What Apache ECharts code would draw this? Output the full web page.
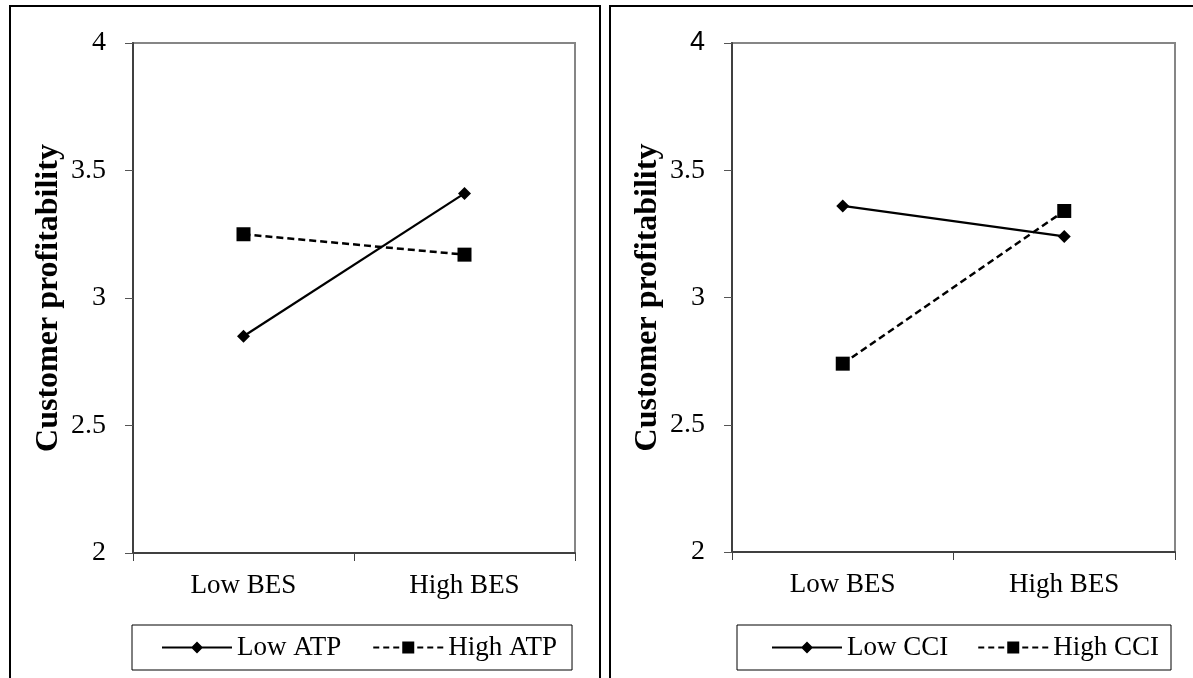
<!DOCTYPE html>
<html>
<head>
<meta charset="utf-8">
<script src="https://cdn.jsdelivr.net/npm/echarts@6/dist/echarts.min.js"></script>
<style>
html,body{margin:0;padding:0;background:#fff;}
#chart{width:1193px;height:678px;}
</style>
</head>
<body>
<div id="chart"></div>
<script>
const categories = ['Low BES', 'High BES'];
const lowATP = [2.85, 3.41];
const highATP = [3.25, 3.17];
const lowCCI = [3.36, 3.24];
const highCCI = [2.74, 3.34];
const yMin = 2, yMax = 4, yStep = 0.5;
const yTitle = 'Customer profitability';
const legendLeft = ['Low ATP', 'High ATP'];
const legendRight = ['Low CCI', 'High CCI'];

const serif = '"Liberation Serif", "Times New Roman", serif';
const chart = echarts.init(document.getElementById('chart'));

// legend icons (70 x 13 box): line with diamond / dashed line with square
const iconSolid = 'path://M0 5.5L70 5.5L70 7.5L0 7.5Z M35 0.5L41 6.5L35 12.5L29 6.5Z';
const iconDashed = 'path://M0 0L0.01 0Z M0 13L0.01 13Z ' +
  'M0 5.5L6 5.5L6 7.5L0 7.5Z M10 5.5L16 5.5L16 7.5L10 7.5Z M20 5.5L26 5.5L26 7.5L20 7.5Z ' +
  'M29 0.5L41 0.5L41 12.5L29 12.5Z ' +
  'M44 5.5L50 5.5L50 7.5L44 7.5Z M54 5.5L60 5.5L60 7.5L54 7.5Z M64 5.5L70 5.5L70 7.5L64 7.5Z';

function xAxis(gi) {
  return {
    type: 'category', gridIndex: gi, data: categories, boundaryGap: true,
    axisLine: {lineStyle: {color: '#404040', width: 2}},
    axisTick: {show: true, length: 8, lineStyle: {color: '#404040', width: 1}},
    axisLabel: {fontFamily: serif, fontSize: 27, color: '#000', margin: 19}
  };
}
function yAxis(gi, sansTop) {
  return {
    type: 'value', gridIndex: gi, min: yMin, max: yMax, interval: yStep,
    name: yTitle, nameLocation: 'middle', nameRotate: 90, nameGap: 68,
    nameTextStyle: {fontFamily: serif, fontSize: 32, fontWeight: 'bold', color: '#000'},
    axisLine: {show: true, lineStyle: {color: '#404040', width: 2}},
    axisTick: {show: true, length: 8, lineStyle: {color: '#555', width: 1}},
    splitLine: {show: false},
    axisLabel: {
      fontFamily: serif, fontSize: 28, color: '#000', margin: 27,
      formatter: function (v) {
        if (sansTop && v === yMax) return '{s|' + v + '}';
        return String(v);
      },
      rich: {s: {fontFamily: '"Liberation Sans", Arial, sans-serif', fontSize: 27, color: '#000'}}
    }
  };
}
function lineSeries(name, data, gi, dashed, symbol, size) {
  return {
    name: name, type: 'line', xAxisIndex: gi, yAxisIndex: gi, data: data,
    symbol: symbol, symbolSize: size,
    itemStyle: {color: '#000'},
    lineStyle: {color: '#000', width: dashed ? 2.5 : 2.2, type: dashed ? [7, 4] : 'solid'},
    animation: false
  };
}
function legend(left, names, padL, padR, gap) {
  return {
    left: left, top: 625, orient: 'horizontal',
    data: [{name: names[0], icon: iconSolid}, {name: names[1], icon: iconDashed}],
    borderColor: '#000', borderWidth: 1, padding: [9, padR, 9, padL],
    itemWidth: 70, itemHeight: 13, itemGap: gap,
    itemStyle: {color: '#000', borderWidth: 0},
    textStyle: {fontFamily: serif, fontSize: 27, color: '#000'},
    selectedMode: false
  };
}

chart.setOption({
  backgroundColor: '#fff',
  animation: false,
  graphic: [
    {type: 'rect', shape: {x: 10, y: 6, width: 590, height: 700}, style: {fill: 'none', stroke: '#000', lineWidth: 2}},
    {type: 'rect', shape: {x: 610, y: 6, width: 600, height: 700}, style: {fill: 'none', stroke: '#000', lineWidth: 2}}
  ],
  grid: [
    {left: 133, top: 43, width: 442, height: 510, show: true, borderColor: '#868686', borderWidth: 2, backgroundColor: 'transparent'},
    {left: 732, top: 43, width: 443, height: 509, show: true, borderColor: '#868686', borderWidth: 2, backgroundColor: 'transparent'}
  ],
  xAxis: [xAxis(0), xAxis(1)],
  yAxis: [yAxis(0, false), yAxis(1, true)],
  legend: [legend(132, legendLeft, 30, 15, 32), legend(737, legendRight, 35, 12, 30)],
  series: [
    lineSeries(legendLeft[0], lowATP, 0, false, 'diamond', 13),
    lineSeries(legendLeft[1], highATP, 0, true, 'rect', 14),
    lineSeries(legendRight[0], lowCCI, 1, false, 'diamond', 13),
    lineSeries(legendRight[1], highCCI, 1, true, 'rect', 14)
  ]
});
</script>
</body>
</html>
